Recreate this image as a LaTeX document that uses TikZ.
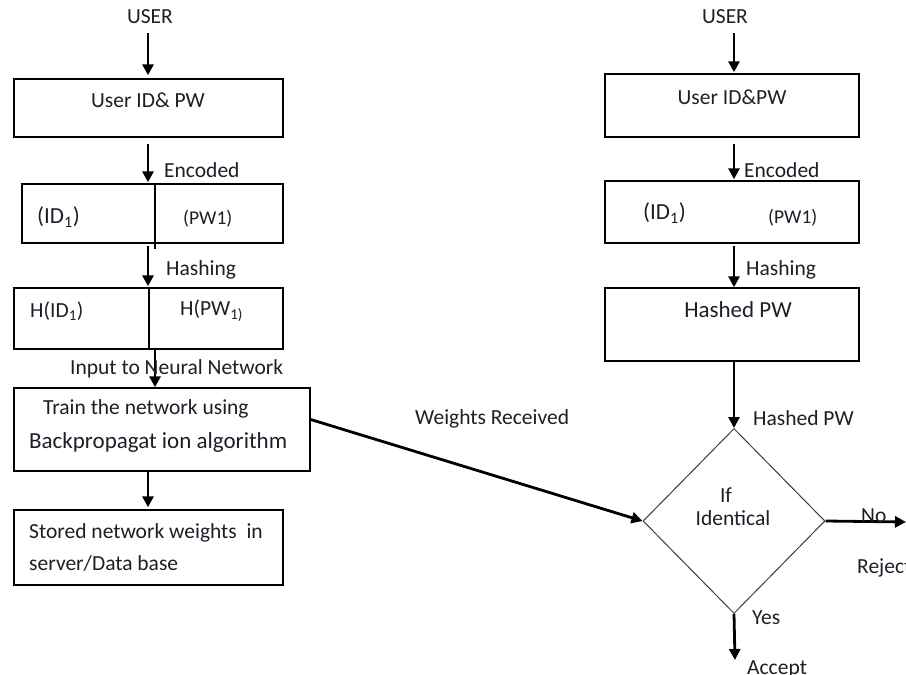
\documentclass[tikz,border=0pt]{standalone}
\usepackage{fontspec}
\setmainfont{Carlito}
\usetikzlibrary{arrows.meta,shapes.geometric}
\definecolor{textc}{RGB}{30,30,40}
\definecolor{diac}{RGB}{60,60,60}
\tikzset{
  txt/.style={inner sep=0pt, text=textc, font=\fontsize{21.5}{25}\selectfont},
  bigtxt/.style={txt, font=\fontsize{23}{27}\selectfont},
  smalltxt/.style={txt, font=\fontsize{19.5}{23}\selectfont},
  box/.style={draw=black, line width=1.4pt, inner sep=0pt},
  arr/.style={draw=black, line width=2.8pt, -{Triangle[width=11pt,length=11pt]}},
  divline/.style={draw=black, line width=1.4pt},
  decision/.style={diamond, draw=diac, line width=1pt, inner sep=0pt, minimum width=182pt, minimum height=185pt}
}
\begin{document}
\begin{tikzpicture}[x=1pt,y=-1pt]
\useasboundingbox (0,0) rectangle (906,675);
\clip (0,0) rectangle (906,675);
% column coordinates
\coordinate (cL) at (148,0);
\coordinate (cL2) at (155,0);
\coordinate (cR) at (734,0);

% ---------------- left column ----------------
\node[txt] (userL) at (150,17) {USER};
\node[box, minimum width=269pt, minimum height=58pt] (bL1) at (148.5,108) {};
\node[txt] (tL1) at (148,100) {User ID\& PW};

\node[box, minimum width=261pt, minimum height=59pt] (bL2) at (152.5,213.5) {};
\coordinate (dL2) at (155,0);
\draw[divline] (bL2.north -| dL2) -- ([yshift=-5pt]bL2.south -| dL2);
\node[bigtxt, anchor=west] (tL2a) at (37,217) {(ID\textsubscript{1})};
\node[smalltxt, anchor=west] (tL2b) at (183,219) {(PW1)};

\node[box, minimum width=269pt, minimum height=61pt] (bL3) at (148.5,318.5) {};
\coordinate (dL3) at (149,0);
\draw[divline] (bL3.north -| dL3) -- (bL3.south -| dL3);
\node[txt, anchor=west] (tL3a) at (30,311) {H(ID\textsubscript{1})};
\node[txt, anchor=west] (tL3b) at (180,311) {H(PW\textsubscript{1)}};

\node[box, minimum width=296pt, minimum height=83pt] (bL4) at (162,429.5) {};
\node[txt, anchor=west] (tL4a) at (43,409) {Train the network using};
\node[bigtxt, anchor=west] (tL4b) at (29,442) {Backpropagat ion algorithm};

\node[box, minimum width=269pt, minimum height=75pt] (bL5) at (148.5,547.5) {};
\node[txt, anchor=west] (tL5a) at (29,533) {Stored network weights\ \ in};
\node[txt, anchor=west] (tL5b) at (29,563) {server/Data base};

% left arrows
\draw[arr, shorten <=9pt, shorten >=3pt] (userL.south -| cL) -- (bL1.north -| cL);
\draw[arr, shorten <=6pt, shorten >=1pt] (bL1.south -| cL) -- (bL2.north -| cL);
\draw[arr, shorten <=2pt, shorten >=1pt] (bL2.south -| cL) -- (bL3.north -| cL);
\draw[arr, shorten <=-2pt] (bL3.south -| cL2) -- (bL4.north -| cL2);
\draw[arr, shorten >=2pt] (bL4.south -| cL) -- (bL5.north -| cL);

% left labels
\node[txt, anchor=west] (lEncL) at (164,170) {Encoded};
\node[txt, anchor=west] (lHashL) at (166,270) {Hashing};
\node[txt, anchor=west] (lInput) at (70,369) {Input to Neural Network};

% ---------------- right column ----------------
\node[txt] (userR) at (725,17) {USER};
\node[box, minimum width=254pt, minimum height=63pt] (bR1) at (732,105.5) {};
\node[txt] (tR1) at (732,97) {User ID\&PW};

\node[box, minimum width=254pt, minimum height=62pt] (bR2) at (732,212) {};
\node[bigtxt, anchor=west] (tR2a) at (643,213) {(ID\textsubscript{1})};
\node[smalltxt, anchor=west] (tR2b) at (768,218) {(PW1)};

\node[box, minimum width=254pt, minimum height=73pt] (bR3) at (732,324.5) {};
\node[bigtxt] (tR3) at (738,310) {Hashed PW};

\node[decision] (dia) at (734,521) {};
\node[txt] (tIf) at (726,495) {If};
\node[txt] (tIdent) at (733,518) {Identical};

\coordinate (rejEnd) at (906,522);
\coordinate (accEnd) at (735,660);

% right arrows
\draw[arr, shorten <=9pt, shorten >=1pt] (userR.south -| cR) -- (bR1.north -| cR);
\draw[arr, shorten <=6pt, shorten >=1pt] (bR1.south -| cR) -- (bR2.north -| cR);
\draw[arr, shorten <=2pt] (bR2.south -| cR) -- (bR3.north -| cR);
\draw[arr] (bR3.south -| cR) -- (dia.north);
\draw[arr] (dia.east) -- (rejEnd);
\draw[arr] (dia.south) -- (accEnd);

% right labels
\node[txt, anchor=west] (lEncR) at (744,170) {Encoded};
\node[txt, anchor=west] (lHashR) at (746,270) {Hashing};
\node[txt, anchor=west] (lHPW) at (753,418) {Hashed PW};
\node[txt, anchor=west] (lNo) at (861,516) {No};
\node[txt, anchor=west] (lRej) at (857,568) {Reject};
\node[txt, anchor=west] (lYes) at (752,618) {Yes};
\node[txt, anchor=north west] (lAcc) at (747,660) {Accept};

% cross connector
\draw[arr] ([yshift=10pt]bL4.east) -- (dia.west);
\node[txt, anchor=west] (lW) at (415,419) {Weights Received};
\end{tikzpicture}
\end{document}
